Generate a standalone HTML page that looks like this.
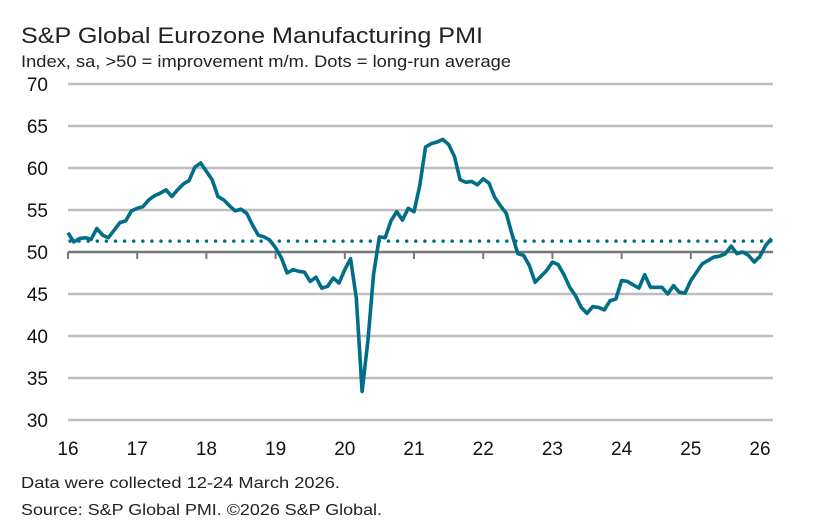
<!DOCTYPE html>
<html><head><meta charset="utf-8"><style>
html,body{margin:0;padding:0;background:#fff;}
svg{display:block;font-family:"Liberation Sans",sans-serif;}
</style></head><body>
<svg id="chart" width="813" height="529" viewBox="0 0 813 529">
<text x="21" y="43" font-size="22" textLength="462" lengthAdjust="spacingAndGlyphs" fill="#222">S&amp;P Global Eurozone Manufacturing PMI</text>
<text x="21" y="67" font-size="16.5" textLength="490" lengthAdjust="spacingAndGlyphs" fill="#222">Index, sa, &gt;50 = improvement m/m. Dots = long-run average</text>
<g id="grid"></g><g id="yl"></g><g id="xl"></g><g id="marks"></g>
<text x="21" y="488" font-size="16" textLength="319" lengthAdjust="spacingAndGlyphs" fill="#222">Data were collected 12-24 March 2026.</text>
<text x="21" y="515" font-size="16" textLength="361" lengthAdjust="spacingAndGlyphs" fill="#222">Source: S&amp;P Global PMI. ©2026 S&amp;P Global.</text>
</svg>
<script>
const yTicks=[70,65,60,55,50,45,40,35,30];
const xTickLabels=["16","17","18","19","20","21","22","23","24","25","26"];
const startYear=2016;
const longRunAvg=51.3;
const pmi2016=[52.3,51.2,51.6,51.7,51.5,52.8,52.0,51.7,52.6,53.5,53.7,54.9];
const pmi2017=[55.2,55.4,56.2,56.7,57.0,57.4,56.6,57.4,58.1,58.5,60.1,60.6];
const pmi2018=[59.6,58.6,56.6,56.2,55.5,54.9,55.1,54.6,53.2,52.0,51.8,51.4];
const pmi2019=[50.5,49.3,47.5,47.9,47.7,47.6,46.5,47.0,45.7,45.9,46.9,46.3];
const pmi2020=[47.9,49.2,44.5,33.4,39.4,47.4,51.8,51.7,53.7,54.8,53.8,55.2];
const pmi2021=[54.8,57.9,62.5,62.9,63.1,63.4,62.8,61.4,58.6,58.3,58.4,58.0];
const pmi2022=[58.7,58.2,56.5,55.5,54.6,52.1,49.8,49.6,48.4,46.4,47.1,47.8];
const pmi2023=[48.8,48.5,47.3,45.8,44.8,43.4,42.7,43.5,43.4,43.1,44.2,44.4];
const pmi2024=[46.6,46.5,46.1,45.7,47.3,45.8,45.8,45.8,45.0,46.0,45.2,45.1];
const pmi2025=[46.6,47.6,48.6,49.0,49.4,49.5,49.8,50.7,49.8,50.0,49.6,48.8];
const pmi2026=[49.5,50.8,51.6];
const values=[].concat(pmi2016,pmi2017,pmi2018,pmi2019,pmi2020,pmi2021,pmi2022,pmi2023,pmi2024,pmi2025,pmi2026);

const X0=68,PXY=69.2,Y70=84,Y30=420,XR=773;
const y=v=>Y70+(70-v)*(Y30-Y70)/40;
const x=i=>X0+i*PXY/12;
const NS="http://www.w3.org/2000/svg";
function mk(tag,attrs,parent){const e=document.createElementNS(NS,tag);for(const k in attrs)e.setAttribute(k,attrs[k]);document.getElementById(parent).appendChild(e);return e;}
yTicks.forEach(t=>{
  if(t!==50){const l=mk("line",{x1:X0,x2:XR,y1:y(t),y2:y(t),stroke:"#bdbdbd","stroke-width":2.5},"grid");
  
  }
  const tx=mk("text",{x:48,y:y(t)+7,"font-size":19,"text-anchor":"end",fill:"#111"},"yl");tx.textContent=t;
  
  
});
const ax=mk("line",{x1:X0,x2:XR,y1:y(50),y2:y(50),stroke:"#777","stroke-width":2.5},"grid");


xTickLabels.forEach((lab,i)=>{
  const xx=X0+i*PXY;
  const tk=mk("line",{x1:xx,x2:xx,y1:y(50),y2:y(50)+7,stroke:"#777","stroke-width":2},"grid");
  
  
  const tx=mk("text",{x:xx,y:455,"font-size":19,"text-anchor":"middle",fill:"#111"},"xl");tx.textContent=lab;
  
  
});
const avg=mk("line",{x1:X0+2,x2:XR,y1:y(longRunAvg),y2:y(longRunAvg),stroke:"#006e87","stroke-width":3.5,"stroke-dasharray":"0 9.1","stroke-linecap":"round"},"marks");


const d=values.map((v,i)=>(i?"L":"M")+x(i).toFixed(2)+","+y(v).toFixed(2)).join("");
const p=mk("path",{d:d,fill:"none",stroke:"#006e87","stroke-width":3.6,"stroke-linejoin":"round"},"marks");


</script>
</body></html>
